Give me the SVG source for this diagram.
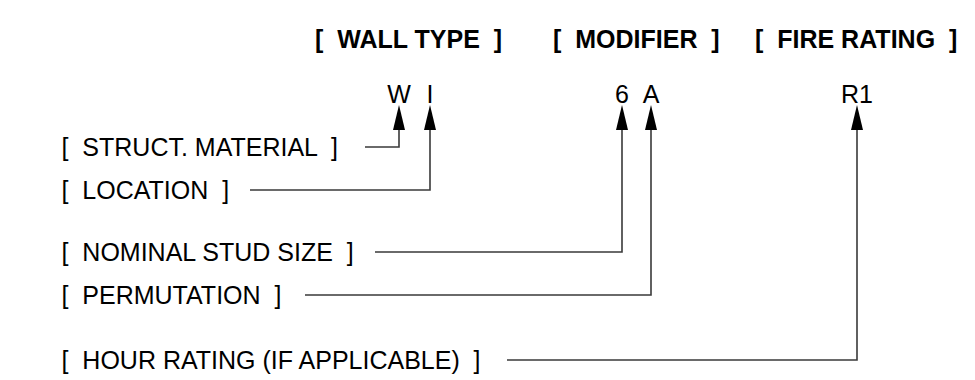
<svg xmlns="http://www.w3.org/2000/svg" width="975" height="380" viewBox="0 0 975 380">
<style>
.t{font-family:"Liberation Sans",Arial,sans-serif;font-size:25px;font-weight:bold;fill:#000;white-space:pre}
.c{font-family:"Liberation Sans",Arial,sans-serif;font-size:25px;fill:#000;text-anchor:middle}
.l{font-family:"Liberation Sans",Arial,sans-serif;font-size:25px;fill:#000;white-space:pre}
.w{fill:none;stroke:#3a3a3a;stroke-width:1.6}
.ah{fill:#000}
</style>
<rect width="975" height="380" fill="#fff"/>
<g id="headers">
<text class="t" x="315" y="48" xml:space="preserve">[  WALL TYPE  ]</text>
<text class="t" x="553" y="48" xml:space="preserve">[  MODIFIER  ]</text>
<text class="t" x="755" y="48" xml:space="preserve">[  FIRE RATING  ]</text>
</g>
<g id="code">
<text class="c" x="399" y="103">W</text>
<text class="c" x="430" y="103">I</text>
<text class="c" x="622" y="103">6</text>
<text class="c" x="651" y="103">A</text>
<text class="c" x="857" y="103">R1</text>
</g>
<g id="label-struct"><text class="l" x="61.5" y="156" xml:space="preserve">[  STRUCT. MATERIAL  ]</text></g>
<g id="label-location"><text class="l" x="61.5" y="199" xml:space="preserve">[  LOCATION  ]</text></g>
<g id="label-stud"><text class="l" x="61.5" y="261" xml:space="preserve">[  NOMINAL STUD SIZE  ]</text></g>
<g id="label-perm"><text class="l" x="61.5" y="304" xml:space="preserve">[  PERMUTATION  ]</text></g>
<g id="label-hour"><text class="l" x="61.5" y="369" xml:space="preserve">[  HOUR RATING (IF APPLICABLE)  ]</text></g>
<g id="connectors">
<polyline class="w" points="365,147 399,147 399,128"/>
<polyline class="w" points="250,190 430,190 430,128"/>
<polyline class="w" points="375,252 622,252 622,128"/>
<polyline class="w" points="305,295 651,295 651,128"/>
<polyline class="w" points="507,360 857,360 857,128"/>
<polygon class="ah" points="399,105 393,130 405,130"/>
<polygon class="ah" points="430,105 424,130 436,130"/>
<polygon class="ah" points="622,105 616,130 628,130"/>
<polygon class="ah" points="651,105 645,130 657,130"/>
<polygon class="ah" points="857,105 851,130 863,130"/>
</g>
</svg>
